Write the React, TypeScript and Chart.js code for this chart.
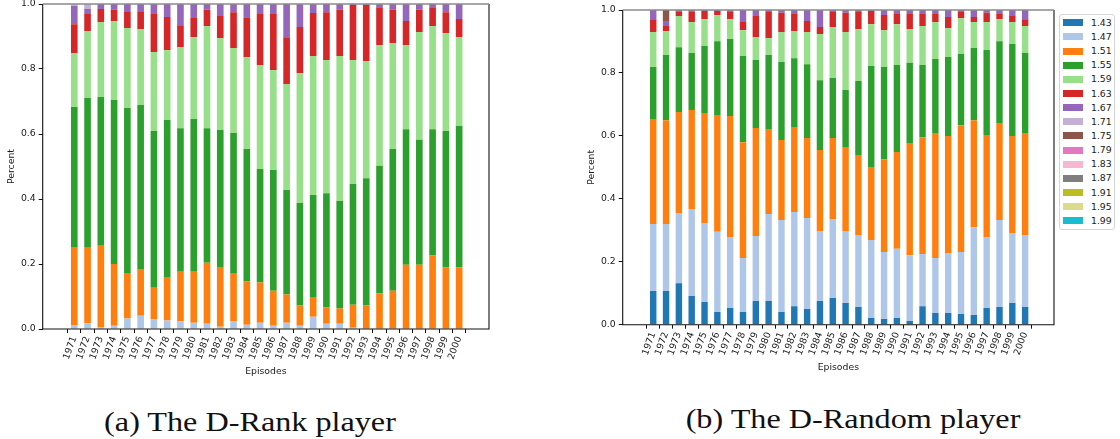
import React, { useEffect, useRef } from "react";
import { Chart, registerables } from "chart.js";

Chart.register(...registerables);

// ---------- data ----------
const years = [
  "1971", "1972", "1973", "1974", "1975", "1976", "1977", "1978", "1979", "1980",
  "1981", "1982", "1983", "1984", "1985", "1986", "1987", "1988", "1989", "1990",
  "1991", "1992", "1993", "1994", "1995", "1996", "1997", "1998", "1999", "2000",
];

const legendLabels = ["1.43", "1.47", "1.51", "1.55", "1.59", "1.63", "1.67", "1.71", "1.75", "1.79", "1.83", "1.87", "1.91", "1.95", "1.99"];
const legendColors = ["#1f77b4", "#aec7e8", "#ff7f0e", "#2ca02c", "#98df8a", "#d62728", "#9467bd", "#c5b0d5", "#8c564b", "#e377c2", "#f7b6d2", "#7f7f7f", "#bcbd22", "#dbdb8d", "#17becf"];

// (a) D-Rank player
const rank147 = [0.012, 0.018, 0.006, 0.010, 0.032, 0.041, 0.029, 0.026, 0.023, 0.019, 0.016, 0.007, 0.023, 0.013, 0.019, 0.010, 0.019, 0.010, 0.038, 0.016, 0.016, 0.004, 0, 0, 0, 0, 0, 0, 0, 0];
const rank151 = [0.240, 0.232, 0.250, 0.190, 0.138, 0.144, 0.098, 0.134, 0.153, 0.157, 0.188, 0.184, 0.147, 0.133, 0.124, 0.108, 0.087, 0.062, 0.058, 0.050, 0.047, 0.071, 0.072, 0.109, 0.118, 0.198, 0.198, 0.226, 0.189, 0.189];
const rank155 = [0.431, 0.461, 0.458, 0.505, 0.510, 0.504, 0.482, 0.483, 0.442, 0.470, 0.414, 0.421, 0.433, 0.408, 0.349, 0.371, 0.322, 0.316, 0.316, 0.352, 0.331, 0.371, 0.392, 0.393, 0.436, 0.417, 0.384, 0.389, 0.420, 0.436];
const rank159 = [0.166, 0.206, 0.231, 0.243, 0.246, 0.234, 0.243, 0.215, 0.250, 0.252, 0.314, 0.283, 0.262, 0.283, 0.320, 0.308, 0.326, 0.400, 0.428, 0.410, 0.446, 0.382, 0.361, 0.372, 0.326, 0.259, 0.332, 0.317, 0.302, 0.273];
const rank163 = [0.089, 0.052, 0.040, 0.034, 0.052, 0.055, 0.117, 0.102, 0.067, 0.059, 0.050, 0.068, 0.110, 0.120, 0.157, 0.172, 0.144, 0.141, 0.132, 0.147, 0.142, 0.169, 0.172, 0.114, 0.102, 0.074, 0.068, 0.056, 0.064, 0.056];
const rank167 = [0.057, 0.016, 0.015, 0.018, 0.022, 0.022, 0.031, 0.040, 0.065, 0.043, 0.018, 0.037, 0.025, 0.043, 0.031, 0.031, 0.102, 0.071, 0.028, 0.025, 0.018, 0.003, 0.003, 0.012, 0.018, 0.052, 0.018, 0.012, 0.025, 0.046];
const rank171 = [0.005, 0.015, 0, 0, 0, 0, 0, 0, 0, 0, 0, 0, 0, 0, 0, 0, 0, 0, 0, 0, 0, 0, 0, 0, 0, 0, 0, 0, 0, 0];

// (b) D-Random player
const random143 = [0.107, 0.107, 0.132, 0.091, 0.072, 0.040, 0.053, 0.040, 0.075, 0.075, 0.040, 0.059, 0.050, 0.075, 0.085, 0.069, 0.056, 0.021, 0.018, 0.021, 0.012, 0.059, 0.037, 0.037, 0.034, 0.031, 0.053, 0.056, 0.069, 0.056];
const random147 = [0.213, 0.213, 0.223, 0.277, 0.251, 0.255, 0.226, 0.172, 0.207, 0.277, 0.293, 0.299, 0.289, 0.223, 0.251, 0.229, 0.229, 0.248, 0.213, 0.220, 0.209, 0.166, 0.175, 0.191, 0.197, 0.279, 0.226, 0.277, 0.222, 0.229];
const random151 = [0.334, 0.330, 0.321, 0.314, 0.350, 0.371, 0.384, 0.368, 0.343, 0.270, 0.254, 0.270, 0.254, 0.257, 0.257, 0.267, 0.254, 0.232, 0.295, 0.308, 0.356, 0.371, 0.397, 0.372, 0.403, 0.340, 0.324, 0.308, 0.309, 0.324];
const random155 = [0.165, 0.207, 0.206, 0.181, 0.213, 0.235, 0.245, 0.274, 0.216, 0.235, 0.248, 0.219, 0.235, 0.222, 0.191, 0.181, 0.235, 0.321, 0.293, 0.276, 0.255, 0.229, 0.235, 0.251, 0.226, 0.229, 0.270, 0.260, 0.292, 0.254];
const random159 = [0.111, 0.076, 0.099, 0.099, 0.085, 0.083, 0.063, 0.082, 0.073, 0.054, 0.095, 0.086, 0.102, 0.147, 0.162, 0.184, 0.166, 0.133, 0.117, 0.130, 0.108, 0.124, 0.118, 0.091, 0.114, 0.083, 0.089, 0.070, 0.070, 0.086];
const random163 = [0.038, 0.016, 0.013, 0.032, 0.026, 0.013, 0.023, 0.026, 0.067, 0.083, 0.061, 0.054, 0.035, 0.022, 0.048, 0.061, 0.054, 0.042, 0.048, 0.032, 0.047, 0.038, 0.025, 0.036, 0.020, 0.016, 0.029, 0.016, 0.019, 0.022];
const random167 = [0.032, 0.016, 0.006, 0.006, 0.003, 0.003, 0.006, 0.038, 0.019, 0.006, 0.009, 0.013, 0.035, 0.054, 0.006, 0.009, 0.006, 0.003, 0.016, 0.013, 0.013, 0.013, 0.013, 0.022, 0.006, 0.022, 0.009, 0.013, 0.019, 0.029];
const random175 = [0, 0.035, 0, 0, 0, 0, 0, 0, 0, 0, 0, 0, 0, 0, 0, 0, 0, 0, 0, 0, 0, 0, 0, 0, 0, 0, 0, 0, 0, 0];

const yTicks = [0, 0.2, 0.4, 0.6, 0.8, 1.0];

// ---------- styling / layout ----------
const FONT_FAMILY = '"DejaVu Sans", sans-serif';
const FONT_SIZE = 9.3;
const TEXT_COLOR = "#1a1a1a";
const X_MIN = -1.82;
const X_MAX = 30.69;

const colorOf = (label: string) => legendColors[legendLabels.indexOf(label)];

type Series = { label: string; values: number[] };
type Geom = {
  left: number; top: number; width: number; height: number;
  padding: { left: number; top: number; right: number; bottom: number };
  yAxisWidth: number; xAxisHeight: number; yTitlePad: number;
};

const rankSeries: Series[] = [
  { label: "1.47", values: rank147 },
  { label: "1.51", values: rank151 },
  { label: "1.55", values: rank155 },
  { label: "1.59", values: rank159 },
  { label: "1.63", values: rank163 },
  { label: "1.67", values: rank167 },
  { label: "1.71", values: rank171 },
];

const randomSeries: Series[] = [
  { label: "1.43", values: random143 },
  { label: "1.47", values: random147 },
  { label: "1.51", values: random151 },
  { label: "1.55", values: random155 },
  { label: "1.59", values: random159 },
  { label: "1.63", values: random163 },
  { label: "1.67", values: random167 },
  { label: "1.75", values: random175 },
];

const LEFT_GEOM: Geom = {
  left: 0, top: -20, width: 505, height: 420,
  padding: { left: 0, top: 24, right: 16, bottom: 22.5 },
  yAxisWidth: 42.7, xAxisHeight: 48.5, yTitlePad: 6.2,
};
const RIGHT_GEOM: Geom = {
  left: 580, top: -20, width: 490, height: 420,
  padding: { left: 0, top: 30, right: 16, bottom: 26.5 },
  yAxisWidth: 42.7, xAxisHeight: 48.8, yTitlePad: 6.2,
};

const framePlugin = {
  id: "frame",
  afterDraw(chart: any) {
    const { ctx, chartArea } = chart;
    const { left, top, right, bottom } = chartArea;
    ctx.save();
    ctx.lineWidth = 1.1;
    ctx.strokeStyle = "#111";
    ctx.beginPath();
    ctx.moveTo(left, top);
    ctx.lineTo(left, bottom);
    ctx.lineTo(right, bottom);
    ctx.lineTo(right, top);
    ctx.stroke();
    ctx.strokeStyle = "#8a8a8a";
    ctx.lineWidth = 1.5;
    ctx.beginPath();
    ctx.moveTo(left, top);
    ctx.lineTo(right, top);
    ctx.stroke();
    ctx.restore();
  },
};

function StackedBarChart({ series, geom }: { series: Series[]; geom: Geom }) {
  const ref = useRef<HTMLCanvasElement>(null);
  useEffect(() => {
    const font = { family: FONT_FAMILY, size: FONT_SIZE };
    const chart = new Chart(ref.current as HTMLCanvasElement, {
      type: "bar",
      data: {
        datasets: series.map((s) => ({
          label: s.label,
          data: s.values.map((v, i) => ({ x: i, y: v })),
          backgroundColor: colorOf(s.label),
          borderWidth: 0,
          barPercentage: 0.5,
          categoryPercentage: 1,
        })),
      },
      options: {
        animation: false,
        responsive: false,
        maintainAspectRatio: false,
        layout: { padding: geom.padding },
        plugins: { legend: { display: false }, tooltip: { enabled: false } },
        scales: {
          x: {
            type: "linear",
            stacked: true,
            min: X_MIN,
            max: X_MAX,
            afterBuildTicks: (s: any) => {
              s.ticks = years.map((_, i) => ({ value: i }));
            },
            afterFit: (s: any) => {
              s.height = geom.xAxisHeight;
            },
            ticks: {
              autoSkip: false,
              minRotation: 70,
              maxRotation: 70,
              padding: 2,
              font,
              color: TEXT_COLOR,
              callback: (v: any) => years[v] ?? "",
            },
            grid: { display: true, drawOnChartArea: false, drawTicks: true, tickLength: 4, tickColor: "#111", tickWidth: 1 },
            border: { display: false },
            title: { display: true, text: "Episodes", font, color: TEXT_COLOR, padding: 0 },
          },
          y: {
            stacked: true,
            min: 0,
            max: 1,
            afterBuildTicks: (s: any) => {
              s.ticks = yTicks.map((v) => ({ value: v }));
            },
            afterFit: (s: any) => {
              s.width = geom.yAxisWidth;
            },
            ticks: {
              padding: 3,
              font,
              color: TEXT_COLOR,
              callback: (v: any) => Number(v).toFixed(1),
            },
            grid: { display: true, drawOnChartArea: false, drawTicks: true, tickLength: 4, tickColor: "#111", tickWidth: 1 },
            border: { display: false },
            title: { display: true, text: "Percent", font, color: TEXT_COLOR, padding: { top: geom.yTitlePad, bottom: 0 } },
          },
        },
      } as any,
      plugins: [framePlugin],
    });
    return () => chart.destroy();
  }, [series, geom]);

  return (
    <canvas
      ref={ref}
      width={geom.width}
      height={geom.height}
      style={{ position: "absolute", left: geom.left, top: geom.top, width: geom.width, height: geom.height }}
    />
  );
}

function Legend() {
  const boxLeft = 1059;
  const boxTop = 14;
  return (
    <div
      style={{
        position: "absolute",
        left: boxLeft,
        top: boxTop,
        width: 56,
        height: 216,
        border: "1px solid #d4d4d4",
        borderRadius: 3,
        boxSizing: "border-box",
        background: "#fff",
      }}
    >
      {legendLabels.map((label, i) => {
        const cy = 22.7 + i * 14.16 - boxTop - 1;
        return (
          <div key={label} style={{ position: "absolute", left: 0, top: cy - 7, height: 14, width: 54 }}>
            <div style={{ position: "absolute", left: 3, top: 3.5, width: 20, height: 7, background: legendColors[i] }} />
            <div
              style={{
                position: "absolute",
                left: 31,
                top: 0,
                height: 14,
                lineHeight: "14px",
                fontFamily: FONT_FAMILY,
                fontSize: FONT_SIZE,
                color: TEXT_COLOR,
                whiteSpace: "nowrap",
              }}
            >
              {label}
            </div>
          </div>
        );
      })}
    </div>
  );
}

function Caption({ text, cx, top }: { text: string; cx: number; top: number }) {
  return (
    <div
      style={{
        position: "absolute",
        left: cx - 250,
        width: 500,
        top,
        textAlign: "center",
        fontFamily: '"Liberation Serif", serif',
        fontSize: 28,
        lineHeight: "28px",
        color: "#111",
        transform: "scaleX(1.15)",
        transformOrigin: "center",
        whiteSpace: "nowrap",
      }}
    >
      {text}
    </div>
  );
}

export default function App() {
  return (
    <div
      style={{
        position: "fixed",
        left: 0,
        top: 0,
        width: 1120,
        height: 439,
        background: "#fff",
        overflow: "hidden",
      }}
    >
      <StackedBarChart series={rankSeries} geom={LEFT_GEOM} />
      <StackedBarChart series={randomSeries} geom={RIGHT_GEOM} />
      <Legend />
      <Caption text="(a) The D-Rank player" cx={250} top={407.5} />
      <Caption text="(b) The D-Random player" cx={853} top={404.5} />
    </div>
  );
}
